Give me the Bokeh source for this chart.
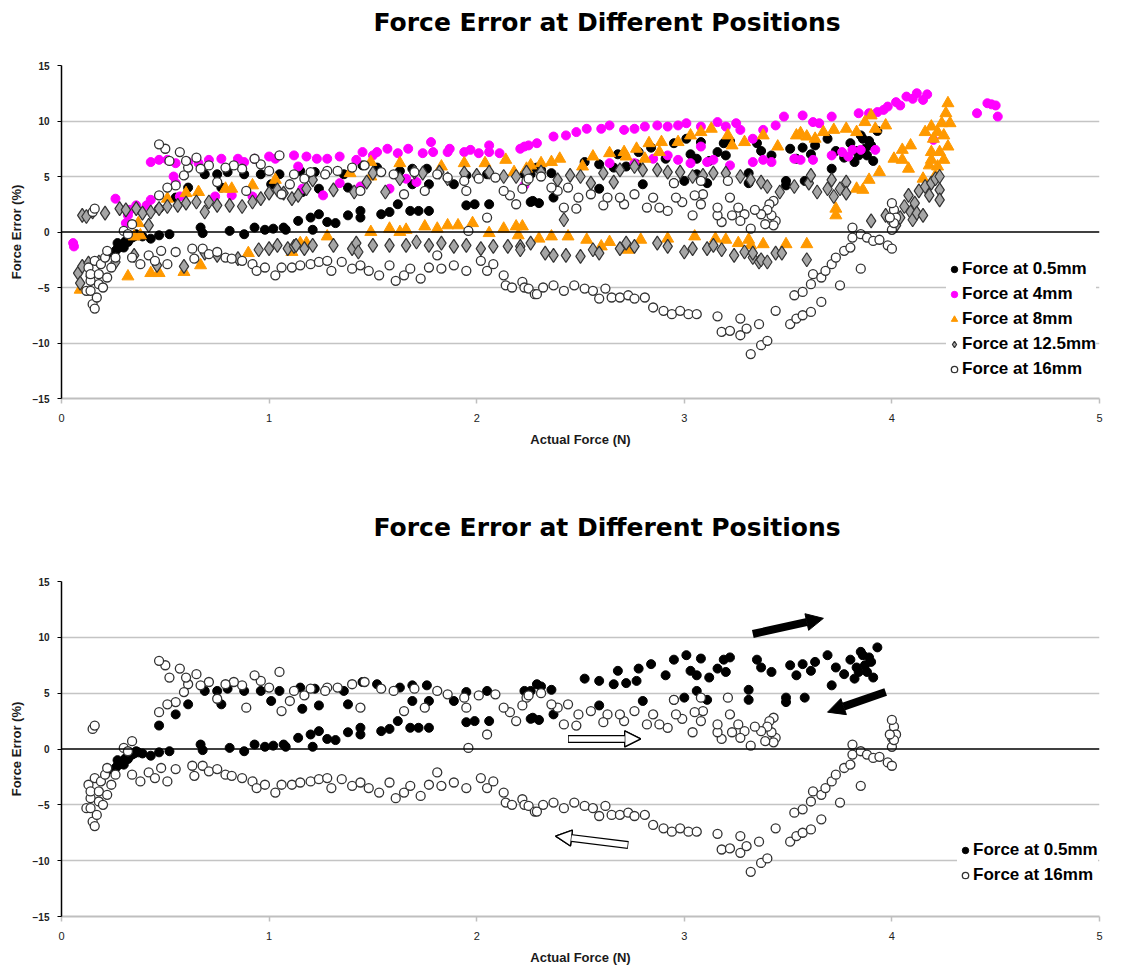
from bokeh.plotting import figure
from bokeh.models import (Range1d, FixedTicker, Span, Legend, LegendItem, Title,
                          Arrow, NormalHead, ColumnDataSource)
from bokeh.layouts import column
from bokeh.embed import file_html
from bokeh.resources import INLINE

TITLE = "Force Error at Different Positions"
X_LABEL = "Actual Force (N)"
Y_LABEL = "Force Error (%)"
X_TICKS = [0, 1, 2, 3, 4, 5]
Y_TICKS = [-15, -10, -5, 0, 5, 10, 15]

# ---- Force at 0.5mm ----
f05_pts = [(0.25,-1.9),(0.26,-1.7),(0.27,-1.5),(0.27,-1.0),(0.28,-1.2),(0.29,-1.3),(0.30,-1.0),(0.30,-1.4),
 (0.31,-0.8),(0.32,-0.9),(0.33,-0.6),(0.34,-0.5),(0.35,-0.4),(0.36,-0.2),(0.37,-0.3),(0.39,-0.4),
 (0.43,-0.6),(0.47,-0.3),(0.52,-0.2),(0.67,0.4),(0.68,-0.1),(0.81,0.1),(0.88,-0.2),(0.93,0.4),(0.98,0.2),
 (1.02,0.3),(1.07,0.4),(1.08,0.2),(1.14,1.0),(1.20,1.3),(1.24,1.6),(1.21,0.2),(1.28,0.9),(1.32,0.8),(1.38,1.5),
 (1.44,1.9),(1.44,1.3),(1.54,1.6),(1.58,1.8),(1.62,2.5),(1.68,1.9),(1.72,1.9),(1.77,1.9),(1.95,2.4),(1.99,2.5),
 (2.06,2.5),(2.26,2.7),(2.30,2.6),(2.27,2.8),(2.37,3.1),
 (2.52,6.3),(2.59,6.1),(2.66,5.8),(2.68,7.0),(2.72,5.9),(2.77,6.1),(2.78,7.2),(2.84,7.6),(2.91,6.6),(2.95,8.0),
 (3.01,8.4),(3.03,7.0),(3.06,6.6),(3.08,8.1),(3.12,6.4),(3.16,7.2),(3.19,8.0),(3.22,8.2),(3.20,6.9),(3.35,8.0),
 (3.37,7.3),(3.42,6.9),(3.51,7.5),(3.54,6.6),(3.57,7.6),(3.63,7.8),(3.61,7.0),(3.69,8.4),(3.73,7.3),(3.77,6.7),
 (3.80,8.0),(3.83,7.3),(3.86,8.4),(3.88,6.9),(3.90,7.8),(3.93,9.1),(3.91,6.4),(3.82,6.3),(3.85,8.7),(3.87,7.5),
 (3.84,6.9),(3.89,8.2),(3.71,5.7),
 (3.49,4.6),(3.58,4.6),(3.49,4.2),(3.31,5.3),(3.31,4.4),(3.11,4.4),(3.06,5.2),(3.00,4.6),(2.95,4.4),(2.80,4.3),
 (2.59,3.9),(2.26,5.2),(2.31,5.6),(2.36,5.3),(2.29,5.8),(2.23,5.2),(2.05,5.2),(1.95,5.1),(1.89,4.3),(1.77,4.3),
 (1.76,5.7),(1.69,4.3),(1.69,5.7),(1.63,5.5),(1.52,5.8),(1.45,6.0),(1.38,4.0),(1.36,5.2),(1.24,3.9),(1.22,5.4),
 (1.16,3.6),(1.15,5.5),(1.05,5.2),(1.01,4.3),(0.96,5.2),(0.88,5.2),(0.80,5.4),(0.77,4.0),(0.75,5.2),(0.69,5.2),
 (0.61,4.0),(0.55,3.1),(0.47,2.1)]

# ---- Force at 4mm ----
f4_pts = [(0.056,-1.0),(0.06,-1.3),(0.26,3.0),(0.31,0.8),(0.32,1.5),(0.33,2.0),(0.36,2.4),(0.41,2.4),(0.43,2.9),
 (0.43,6.3),(0.47,6.5),(0.51,6.5),(0.54,5.0),(0.55,6.2),(0.55,4.4),(0.57,3.2),(0.61,6.3),(0.66,6.2),(0.71,6.5),
 (0.74,3.2),(0.77,6.6),(0.82,3.3),(0.85,6.6),(0.88,6.3),(0.92,3.2),(0.93,6.6),(1.00,6.8),(1.03,6.6),(1.12,6.9),
 (1.14,5.9),(1.16,3.9),(1.18,6.8),(1.23,6.6),(1.26,3.3),(1.28,6.6),(1.34,6.8),(1.34,4.4),(1.42,6.5),(1.44,4.1),
 (1.45,7.2),(1.50,6.9),(1.52,7.2),(1.57,7.5),(1.58,3.9),(1.62,7.1),(1.66,4.8),(1.67,7.5),(1.71,4.5),(1.74,7.1),
 (1.78,8.1),(1.79,7.2),(1.86,7.2),(1.87,7.5),(1.94,7.2),(1.97,7.4),(2.01,7.1),(2.06,7.8),(2.06,7.2),(2.11,7.1),
 (2.21,7.5),(2.23,7.7),(2.25,7.8),(2.23,4.2),(2.29,8.0),(2.37,8.6),(2.43,8.7),(2.48,9.0),(2.53,9.3),(2.60,9.3),
 (2.64,9.6),(2.64,6.2),(2.71,9.2),(2.76,9.3),(2.76,6.2),(2.81,9.5),(2.85,6.6),(2.87,9.6),(2.92,9.5),(2.92,6.9),
 (2.97,9.6),(2.97,6.5),(3.01,9.8),(3.03,6.2),(3.08,9.5),(3.08,7.7),(3.11,6.3),(3.14,6.5),(3.16,9.9),(3.20,9.5),
 (3.22,6.0),(3.25,9.8),(3.27,9.2),(3.33,8.4),(3.33,6.3),(3.38,9.2),(3.38,6.5),(3.42,6.3),(3.44,9.6),(3.48,10.4),
 (3.53,6.6),(3.56,6.5),(3.57,10.5),(3.62,9.9),(3.62,6.5),(3.65,9.8),(3.71,10.4),(3.71,6.9),(3.76,7.2),(3.79,6.8),
 (3.81,7.4),(3.84,10.7),(3.85,7.4),(3.89,10.7),(3.92,7.4),(3.93,10.8),(3.96,11.0),(3.98,11.3),(4.02,11.7),
 (4.04,11.4),(4.07,12.2),(4.10,12.0),(4.12,12.5),(4.15,11.9),(4.17,12.4),(4.20,8.3),(4.41,10.7),(4.46,11.6),
 (4.48,11.5),(4.50,11.4),(4.51,10.4)]

# ---- Force at 8mm ----
f8_pts = [(0.09,-5.2),(0.32,-4.0),(0.35,-0.4),(0.37,0.8),(0.38,-0.3),(0.43,-3.7),(0.47,-3.7),(0.51,3.0),(0.59,-3.6),
 (0.60,3.5),(0.66,3.6),(0.67,-3.0),(0.79,3.9),(0.82,3.9),(0.90,-1.9),(0.92,4.2),(1.03,4.7),(1.11,-1.8),(1.15,-1.0),
 (1.18,-1.0),(1.28,-0.4),(1.39,5.3),(1.49,6.3),(1.49,5.0),(1.49,0.0),(1.58,0.3),(1.63,6.2),(1.63,0.0),(1.66,0.2),
 (1.75,0.5),(1.81,0.3),(1.83,5.9),(1.86,0.6),(1.91,0.6),(1.94,6.2),(1.98,0.8),(2.04,6.2),(2.06,-0.1),(2.13,0.3),
 (2.14,6.5),(2.18,5.4),(2.19,0.5),(2.20,-0.3),(2.22,0.5),(2.24,5.7),(2.26,6.0),(2.30,-0.6),(2.31,6.2),(2.36,6.3),
 (2.36,-0.4),(2.40,6.6),(2.44,-0.4),(2.51,5.9),(2.53,-0.7),(2.56,6.8),(2.60,-1.3),(2.64,7.1),(2.64,-0.9),(2.71,7.2),
 (2.72,6.8),(2.73,-1.6),(2.77,7.5),(2.79,-0.7),(2.81,6.6),(2.83,8.0),(2.88,7.2),(2.89,8.1),(2.92,-0.6),(2.97,8.1),
 (3.03,8.7),(3.05,-0.4),(3.08,9.0),(3.13,9.3),(3.15,-0.6),(3.20,-0.7),(3.21,8.7),(3.23,7.8),(3.26,-1.0),(3.29,8.1),
 (3.31,-0.7),(3.32,-1.2),(3.38,8.7),(3.38,-1.1),(3.45,7.7),(3.49,-1.1),(3.54,8.7),(3.56,8.9),(3.59,8.6),(3.59,-1.1),
 (3.63,8.4),(3.67,9.0),(3.72,9.2),(3.73,2.1),(3.73,1.5),(3.78,9.3),(3.83,9.0),(3.83,3.9),(3.86,3.8),(3.87,9.9),
 (3.89,4.7),(3.90,10.5),(3.92,9.3),(3.94,5.4),(3.97,9.6),(4.01,6.6),(4.05,7.4),(4.05,6.5),(4.08,5.7),(4.09,7.8),
 (4.15,4.8),(4.16,9.0),(4.18,6.0),(4.19,7.2),(4.19,6.5),(4.19,9.5),(4.20,8.4),(4.21,5.1),(4.22,9.0),(4.22,5.9),
 (4.23,7.2),(4.24,9.8),(4.25,6.5),(4.25,8.7),(4.26,10.7),(4.27,11.6),(4.27,7.7),(4.28,9.8)]

# ---- Force at 12.5mm ----
f125_pts = [(0.08,-3.7),(0.09,-4.6),(0.10,1.5),(0.10,-3.1),(0.12,1.4),(0.13,-2.8),(0.14,-4.0),(0.15,1.8),(0.18,-2.7),
 (0.21,1.7),(0.26,-2.7),(0.28,2.1),(0.31,2.0),(0.35,-2.1),(0.36,2.1),(0.39,1.7),(0.42,0.6),(0.43,1.8),(0.46,-3.0),
 (0.47,2.1),(0.51,2.3),(0.56,2.4),(0.59,-3.1),(0.60,2.6),(0.65,2.7),(0.69,1.8),(0.69,-1.9),(0.71,2.7),(0.75,2.4),
 (0.75,-2.1),(0.81,2.4),(0.85,-2.4),(0.87,2.3),(0.92,2.7),(0.95,-1.6),(0.96,3.0),(1.00,3.5),(1.00,-1.5),(1.04,3.8),
 (1.04,-1.2),(1.07,3.5),(1.09,-1.5),(1.11,3.0),(1.12,-1.3),(1.13,-1.2),(1.14,3.3),(1.17,-1.5),(1.18,3.9),(1.21,4.7),
 (1.21,-1.2),(1.31,3.8),(1.31,-1.2),(1.40,-1.5),(1.41,3.6),(1.42,-1.0),(1.43,-1.8),(1.47,4.5),(1.50,5.3),(1.50,-1.2),
 (1.56,3.6),(1.58,-1.2),(1.63,4.8),(1.66,-1.2),(1.70,5.4),(1.71,-0.9),(1.74,5.3),(1.77,-1.2),(1.82,5.4),(1.83,-1.0),
 (1.86,4.8),(1.89,-1.3),(1.94,5.3),(1.95,-1.2),(2.00,5.1),(2.02,-1.5),(2.06,5.4),(2.08,-1.3),(2.13,5.0),(2.15,-1.3),
 (2.19,5.0),(2.21,-1.3),(2.21,-1.6),(2.24,5.4),(2.26,-1.0),(2.31,5.4),(2.33,-1.9),(2.37,-2.1),(2.39,4.7),(2.42,1.1),
 (2.43,-2.1),(2.45,5.1),(2.50,5.0),(2.50,-2.2),(2.55,4.4),(2.56,-1.6),(2.59,-1.9),(2.61,5.3),(2.66,4.5),(2.69,5.6),
 (2.69,-1.5),(2.72,-1.0),(2.76,5.9),(2.76,-1.3),(2.80,5.6),(2.87,5.6),(2.87,-1.0),(2.92,5.4),(2.92,-1.3),(2.98,5.4),
 (3.00,-1.8),(3.04,5.0),(3.04,-1.5),(3.09,5.1),(3.11,-1.5),(3.14,5.3),(3.14,-1.2),(3.18,-1.6),(3.20,5.3),(3.24,-2.1),
 (3.27,5.0),(3.29,-1.8),(3.32,4.7),(3.33,-2.3),(3.33,-1.9),(3.36,-2.7),(3.37,4.5),(3.37,-2.5),(3.40,4.1),(3.40,-2.7),
 (3.44,-1.9),(3.46,3.6),(3.47,-1.9),(3.53,4.1),(3.59,-2.5),(3.60,4.4),(3.61,5.1),(3.64,3.6),(3.69,3.9),(3.71,4.7),
 (3.72,3.2),(3.75,3.9),(3.78,4.5),(3.78,3.5),(3.90,1.0),(3.97,1.5),(4.02,0.6),(4.04,1.3),(4.06,2.3),(4.08,3.3),
 (4.09,1.8),(4.10,1.1),(4.11,2.6),(4.12,1.7),(4.13,3.7),(4.15,1.5),(4.16,4.1),(4.18,3.3),(4.19,4.4),(4.21,4.8),
 (4.23,5.0),(4.23,3.8),(4.23,2.9)]

# ---- Force at 16mm ----
f16_pts = [(0.12,-5.3),(0.13,-3.2),(0.14,-4.4),(0.14,-5.3),(0.14,-3.8),(0.15,-6.5),(0.16,-6.9),(0.16,-2.6),(0.17,-5.9),
 (0.18,-4.7),(0.18,-3.8),(0.19,-2.9),(0.20,-5.0),(0.21,-2.3),(0.22,-1.7),(0.22,-4.1),(0.24,-3.2),(0.26,-2.3),
 (0.15,1.8),(0.16,2.1),(0.30,0.1),(0.34,0.7),(0.32,-0.2),
 (0.34,-2.3),(0.38,-2.9),(0.42,-2.1),(0.45,-2.6),(0.48,-1.7),(0.51,-2.9),(0.55,-1.8),(0.63,-1.5),(0.64,-2.4),
 (0.68,-1.5),(0.71,-2.0),(0.75,-1.8),(0.79,-2.3),(0.82,-2.4),(0.87,-2.6),(0.92,-2.9),(0.94,-3.5),(0.98,-3.2),
 (1.03,-3.9),(1.06,-3.2),(1.11,-3.2),(1.15,-3.0),(1.20,-2.9),(1.24,-2.7),(1.28,-2.6),(1.30,-3.5),(1.35,-2.7),
 (1.40,-3.3),(1.44,-3.0),(1.48,-3.5),(1.53,-3.9),(1.58,-3.0),(1.61,-4.4),(1.65,-3.9),(1.68,-3.3),(1.73,-4.2),
 (1.77,-3.2),(1.81,-2.1),(1.83,-3.3),(1.89,-3.0),(1.95,-3.5),(2.02,-2.6),(2.05,-3.5),(2.08,-2.9),(2.13,-3.9),
 (2.14,-4.8),(2.17,-5.0),(2.22,-4.5),(2.23,-5.0),(2.25,-5.1),(2.28,-5.6),(2.29,-5.6),(2.32,-5.0),(2.37,-4.8),
 (2.42,-5.3),(2.47,-4.8),(2.52,-5.1),(2.56,-5.3),(2.59,-6.0),(2.62,-5.1),(2.65,-5.9),(2.69,-5.9),(2.73,-5.7),
 (2.76,-6.0),(2.81,-5.9),(2.85,-6.8),(2.90,-7.1),(2.94,-7.4),(2.98,-7.1),(3.02,-7.4),(3.06,-7.4),(3.16,-7.6),
 (3.18,-9.0),(3.22,-8.9),(3.27,-7.8),(3.27,-9.3),(3.30,-8.7),(3.32,-11.0),(3.37,-10.2),(3.40,-9.8),(3.36,-8.3),
 (3.44,-7.1),(3.51,-8.3),(3.54,-7.8),(3.57,-7.5),(3.61,-7.2),(3.66,-6.3),(3.75,-4.8),(3.85,-3.3),(3.53,-5.7),
 (3.57,-5.4),(3.61,-4.7),(3.62,-3.8),(3.66,-4.1),(3.68,-3.5),(3.71,-2.9),(3.73,-2.3),(3.77,-1.7),(3.80,-1.4),
 (3.81,-0.5),(3.81,0.4),(3.85,-0.2),(3.88,-0.5),(3.91,-0.8),(3.94,-0.7),(3.98,-1.2),(4.00,-1.5),(4.00,0.2),
 (4.00,1.0),(4.01,2.0),(4.00,2.6),(4.02,1.3),(4.01,0.8),(3.99,1.3),
 (3.44,1.0),(3.43,2.8),(3.43,0.6),(3.42,1.5),(3.41,2.5),(3.40,2.0),(3.39,0.7),(3.37,1.6),(3.34,2.0),(3.32,0.3),
 (3.29,1.6),(3.27,1.0),(3.26,2.2),(3.23,1.5),(3.22,3.1),(3.21,4.6),(3.18,0.9),(3.16,1.5),(3.16,2.2),(3.09,3.4),
 (3.08,4.6),(3.08,2.5),(3.05,3.3),(3.04,1.5),(2.99,2.7),(2.96,3.1),(2.95,4.4),(2.92,1.9),(2.88,2.2),(2.85,3.1),
 (2.82,2.2),(2.76,3.4),(2.71,2.5),(2.69,3.1),(2.63,3.1),(2.61,2.4),(2.55,3.4),(2.49,3.1),(2.48,2.1),(2.44,4.0),
 (2.42,2.2),(2.39,3.7),(2.36,4.0),(2.31,5.0),(2.24,4.6),(2.25,4.8),(2.22,3.9),(2.19,2.5),(2.16,3.3),(2.13,3.7),
 (2.09,4.9),(2.05,1.3),(2.01,4.8),(1.96,0.1),(1.95,3.7),(1.94,4.6),(1.86,4.9),(1.81,5.2),(1.75,3.7),(1.70,5.4),
 (1.65,3.4),(1.60,5.2),(1.54,5.4),(1.46,6.0),(1.44,3.7),(1.40,5.8),(1.33,5.5),(1.28,5.5),(1.27,5.2),(1.20,5.4),
 (1.17,4.8),(1.12,5.2),(1.10,4.3),(1.06,3.4),(1.05,6.9),(1.00,5.5),(0.96,6.1),(0.93,6.6),(0.89,3.7),(0.87,5.7),
 (0.83,6.0),(0.79,5.8),(0.75,4.5),(0.71,6.0),(0.67,5.7),(0.65,6.7),(0.61,5.8),(0.60,6.4),(0.59,5.1),(0.57,7.2),
 (0.55,4.2),(0.52,6.4),(0.51,4.0),(0.50,7.5),(0.47,7.9),(0.47,3.3)]

# Arrow annotations in the lower chart (data coordinates)
arrow_x0 = [3.33, 3.97, 2.44, 2.73]
arrow_y0 = [10.3, 5.1, 0.9, -8.6]
arrow_x1 = [3.67, 3.69, 2.79, 2.38]
arrow_y1 = [11.7, 3.3, 0.9, -7.8]
arrow_open = [False, False, True, True]

FONT = "Liberation Sans"

STYLES = {
    "Force at 0.5mm": dict(pts=f05_pts, marker="circle", size=9, fill_color="black", line_color="black", line_width=1),
    "Force at 4mm": dict(pts=f4_pts, marker="circle", size=9, fill_color="#FF00FF", line_color="#FF00FF", line_width=1),
    "Force at 8mm": dict(pts=f8_pts, marker="triangle", size=12, fill_color="#FF9900", line_color="#FF9900", line_width=1),
    "Force at 12.5mm": dict(pts=f125_pts, marker="diamond", size=14, fill_color="#A6A6A6", line_color="#333333", line_width=1.2),
    "Force at 16mm": dict(pts=f16_pts, marker="circle", size=9, fill_color="white", line_color="#333333", line_width=1.3),
}


def make_fig(height, border_top, border_bottom, names, legend_loc, spacer_standoff, arrows=False):
    p = figure(width=1125, height=height, output_backend="svg", toolbar_location=None,
               title=None, x_range=Range1d(0, 5), y_range=Range1d(-15, 15),
               min_border_left=61, min_border_right=26,
               min_border_top=border_top, min_border_bottom=border_bottom)
    p.outline_line_color = None
    p.background_fill_color = "white"
    p.border_fill_color = "white"

    # spacer title next to the frame, then the real title above it
    p.add_layout(Title(text=" ", text_font_size="10px", standoff=spacer_standoff,
                       text_color="white"), "above")
    p.add_layout(Title(text=TITLE, align="left", offset=312, standoff=0,
                       text_font="DejaVu Sans", text_font_style="bold", text_font_size="25px",
                       text_color="black"), "above")

    p.xgrid.visible = False
    p.ygrid.ticker = FixedTicker(ticks=[-10, -5, 5, 10, 15])
    p.ygrid.grid_line_color = "#C4C4C4"
    p.ygrid.grid_line_width = 1.6

    p.xaxis.ticker = FixedTicker(ticks=X_TICKS)
    p.xaxis.minor_tick_line_color = None
    p.xaxis.axis_line_color = "#BFBFBF"
    p.xaxis.axis_line_width = 2
    p.xaxis.major_tick_line_color = "#BFBFBF"
    p.xaxis.major_tick_line_width = 1.5
    p.xaxis.major_tick_out = 5
    p.xaxis.major_tick_in = 0
    p.xaxis.major_label_standoff = 10
    p.xaxis.major_label_text_font = FONT
    p.xaxis.major_label_text_font_size = "11px"
    p.xaxis.major_label_text_color = "#222222"
    p.xaxis.axis_label = X_LABEL
    p.xaxis.axis_label_text_font = FONT
    p.xaxis.axis_label_text_font_size = "13px"
    p.xaxis.axis_label_text_font_style = "bold"
    p.xaxis.axis_label_text_color = "#1a1a1a"
    p.xaxis.axis_label_standoff = 7

    p.yaxis.ticker = FixedTicker(ticks=Y_TICKS)
    p.yaxis.minor_tick_line_color = None
    p.yaxis.axis_line_color = "black"
    p.yaxis.axis_line_width = 1.5
    p.yaxis.major_tick_line_color = "black"
    p.yaxis.major_tick_out = 4
    p.yaxis.major_tick_in = 0
    p.yaxis.major_label_standoff = 8
    p.yaxis.major_label_text_font = FONT
    p.yaxis.major_label_text_font_size = "10px"
    p.yaxis.major_label_text_font_style = "bold"
    p.yaxis.major_label_text_color = "#222222"
    p.yaxis.axis_label = Y_LABEL
    p.yaxis.axis_label_text_font = FONT
    p.yaxis.axis_label_text_font_size = "13px"
    p.yaxis.axis_label_text_font_style = "bold"
    p.yaxis.axis_label_text_color = "#1a1a1a"
    p.yaxis.axis_label_standoff = 6

    p.add_layout(Span(location=0, dimension="width", line_color="black", line_width=1.5))

    items = []
    for name in names:
        st = STYLES[name]
        src = ColumnDataSource(data=dict(x=[a for a, b in st["pts"]], y=[b for a, b in st["pts"]]))
        r = p.scatter("x", "y", source=src, marker=st["marker"], size=st["size"],
                      fill_color=st["fill_color"], line_color=st["line_color"],
                      line_width=st["line_width"])
        items.append(LegendItem(label=name, renderers=[r]))

    legend = Legend(items=items, location=legend_loc, border_line_color=None,
                    background_fill_color="white", background_fill_alpha=1.0,
                    padding=11, spacing=5, margin=0, label_height=20, glyph_height=20,
                    glyph_width=16, label_standoff=0,
                    label_text_font=FONT, label_text_font_style="bold",
                    label_text_font_size="17px", label_text_color="black")
    p.add_layout(legend)

    if arrows:
        for x0, y0, x1, y1, op in zip(arrow_x0, arrow_y0, arrow_x1, arrow_y1, arrow_open):
            if not op:
                p.add_layout(Arrow(x_start=x0, y_start=y0, x_end=x1, y_end=y1,
                                   line_color="black", line_width=8,
                                   end=NormalHead(size=17, fill_color="black", line_color="black")))
            else:
                p.add_layout(Arrow(x_start=x0, y_start=y0, x_end=x1, y_end=y1,
                                   line_color="black", line_width=8,
                                   end=NormalHead(size=16, fill_color="white", line_color="black",
                                                  line_width=1.3)))
                p.add_layout(Arrow(x_start=x0 + (x1 - x0) * 0.01, y_start=y0 + (y1 - y0) * 0.01,
                                   x_end=x1, y_end=y1,
                                   line_color="white", line_width=5.5,
                                   end=NormalHead(size=16, fill_color="white", line_color="black",
                                                  line_width=1.3)))
    return p


top = make_fig(480, 65, 82, ["Force at 0.5mm", "Force at 4mm", "Force at 8mm",
                             "Force at 12.5mm", "Force at 16mm"], (885, 19), 16)
bottom = make_fig(492, 101, 56, ["Force at 0.5mm", "Force at 16mm"], (896, 31), 27, arrows=True)

layout = column(top, bottom, spacing=0)
open("out.html", "w").write(file_html(layout, INLINE))
